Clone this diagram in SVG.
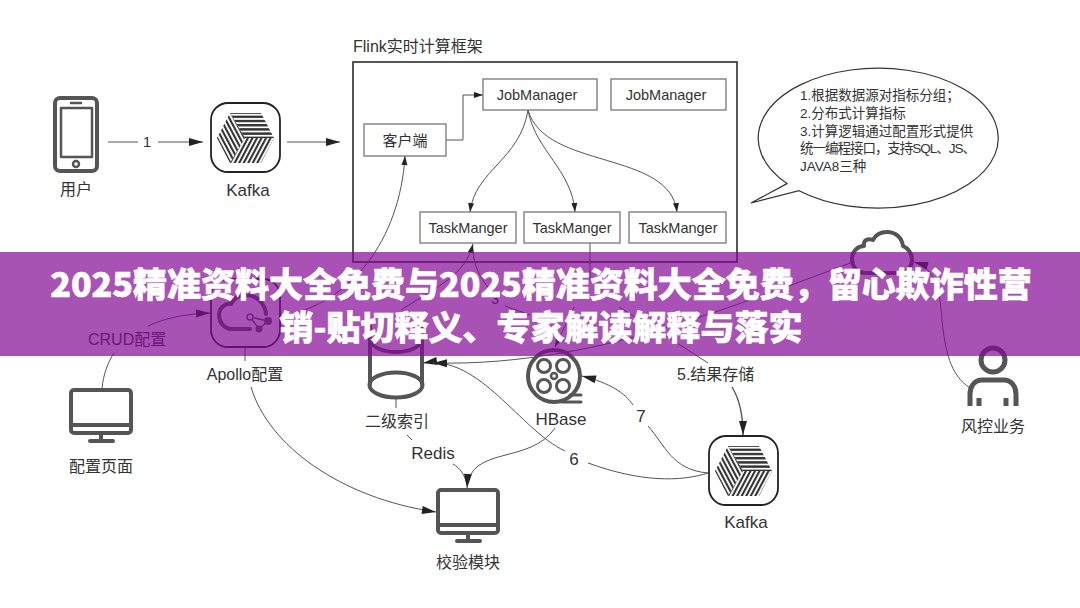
<svg xmlns="http://www.w3.org/2000/svg" width="1080" height="608" viewBox="0 0 1080 608">
<style>
text{font-family:"Liberation Sans","Noto Sans CJK SC",sans-serif;fill:#333;font-size:16px}
.m{text-anchor:middle}
.s{font-size:14.500px}
.b{font-size:13.500px}
.n{font-size:17px}
.box{fill:#fff;stroke:#777;stroke-width:1.3}
.ic{fill:none;stroke:#555;stroke-width:4;stroke-linejoin:round;stroke-linecap:round}
.kb{fill:#fff;stroke:#222;stroke-width:1.8}
.c{fill:none;stroke:#555;stroke-width:1}
.a{marker-end:url(#ar)}
.banner{font-family:"Noto Sans CJK SC","Noto Sans",sans-serif;font-weight:900;font-size:34px;fill:#fff;stroke:#fff;stroke-width:.6px;text-anchor:middle}
</style>
<defs>
<marker id="ar" markerUnits="userSpaceOnUse" markerWidth="16" markerHeight="10" refX="14" refY="4" orient="auto" overflow="visible"><path d="M0 0L14 4L0 8Z" fill="#222"/></marker>
<marker id="as" markerUnits="userSpaceOnUse" markerWidth="10" markerHeight="8" refX="9" refY="3" orient="auto" overflow="visible"><path d="M0 0L9 3L0 6Z" fill="#222"/></marker>
<pattern id="ph" width="6" height="4.2" patternUnits="userSpaceOnUse"><rect width="6" height="2.4" fill="#333"/></pattern>
<pattern id="pl" width="4" height="4" patternUnits="userSpaceOnUse" patternTransform="rotate(-28)"><rect width="2.1" height="4" fill="#333"/></pattern>
<pattern id="pr" width="4" height="4" patternUnits="userSpaceOnUse" patternTransform="rotate(28)"><rect width="2.1" height="4" fill="#333"/></pattern>
<g id="kafka">
<rect class="kb" x="0" y="0" width="69" height="69" rx="17"/>
<path d="M19 10H50L63 35H34Z" fill="url(#ph)"/>
<path d="M19 10L34 35L19 60L6 35Z" fill="url(#pl)"/>
<path d="M34 35H63L50 60H19Z" fill="url(#pr)"/>
</g>
<g id="monitor">
<rect class="ic" x="0" y="0" width="60" height="43" rx="3"/>
<path class="ic" d="M0 35H60M30 43V51M19 51H42"/>
</g>
</defs>
<rect width="1080" height="608" fill="#fff"/>

<g id="connectors">
<path class="c a" d="M108 142H138M158 142H203"/>
<path class="c a" d="M287 142H340"/>
<path class="c" marker-end="url(#as)" d="M446 140H463V95H483"/>
<path class="c" marker-end="url(#as)" d="M528 110C520 160 475 170 470 212"/>
<path class="c" marker-end="url(#as)" d="M528 110C535 150 572 170 575 212"/>
<path class="c" marker-end="url(#as)" d="M528 110C545 170 670 150 677 212"/>
<path class="c" marker-end="url(#as)" d="M281 316C350 305 400 240 405 156"/>
<path class="c" marker-end="url(#as)" d="M401 310C440 285 465 275 473 244"/>
<path class="c" d="M473 250C474 265 478 275 490 290M505 306L530 315"/>
<path class="c" marker-end="url(#as)" d="M574 307L555 347"/>
<path class="c" d="M590 243V280"/>
<path class="c" d="M619 307L688 350L708 363"/>
<path class="c a" style="stroke-width:1.4" d="M732 387C740 400 743 415 743 435"/>
<path class="c a" d="M102 389C103 375 108 362 114 353M148 326C165 318 185 314 210 313"/>
<path class="c" d="M245 347V361"/>
<path class="c a" d="M251 387C268 445 340 498 436 512"/>
<path class="c" d="M396 398V408M407 435L412 440"/>
<path class="c" d="M453 464C460 468 465 475 467 485"/>
<path class="c a" d="M555 428C530 465 470 445 467 488"/>
<path class="c a" d="M708 473C672 470 665 445 648 426M633 405C625 393 610 383 582 376"/>
<path class="c a" d="M708 473C680 482 640 482 588 463M565 451C520 430 480 355 423 363"/>
<path class="c a" d="M853 262C720 312 640 340 561 353C520 360 480 364 433 363"/>
<path class="c a" d="M970 388C950 375 945 350 942 320C940 290 935 268 914 262"/>
</g>

<g id="user"><rect class="ic" x="55" y="98" width="42" height="73" rx="5"/><rect class="ic" style="stroke-width:2.5" x="61" y="108" width="31" height="49"/><path class="ic" style="stroke-width:2.5" d="M71 103H81"/><circle class="ic" style="stroke-width:2.5" cx="76" cy="164" r="3"/><text class="m" x="76" y="195">用户</text></g>
<text class="m s" x="147" y="147">1</text>
<g id="kafka1"><use href="#kafka" x="211" y="103"/><text class="m n" x="248" y="196">Kafka</text></g>

<g id="flink">
<text x="353" y="52">Flink实时计算框架</text>
<rect x="353" y="62" width="384" height="200" fill="none" stroke="#444" stroke-width="1.8"/>
</g>
<g id="jm1"><rect class="box" x="483" y="79" width="114" height="31"/><text class="m s" x="537" y="100">JobManager</text></g>
<g id="jm2"><rect class="box" x="611" y="79" width="115" height="31"/><text class="m s" x="666" y="100">JobManager</text></g>
<g id="client"><rect class="box" x="364" y="124" width="82" height="32"/><text class="m" x="405" y="146" style="font-size:15px">客户端</text></g>
<g id="tm1"><rect class="box" x="420" y="212" width="96" height="31"/><text class="m s" x="468" y="233">TaskManger</text></g>
<g id="tm2"><rect class="box" x="524" y="212" width="96" height="31"/><text class="m s" x="572" y="233">TaskManger</text></g>
<g id="tm3"><rect class="box" x="629" y="212" width="97" height="31"/><text class="m s" x="678" y="233">TaskManger</text></g>

<g id="bubble">
<path d="M787 183.600A120 70 0 1 1 799 190.700L751 203Z" fill="#fff" stroke="#333" stroke-width="1.200"/>
<text class="b" x="800" y="100">1.根据数据源对指标分组；</text>
<text class="b" x="800" y="118">2.分布式计算指标</text>
<text class="b" x="800" y="136">3.计算逻辑通过配置形式提供</text>
<text class="b" x="800" y="153" textLength="176">统一编程接口，支持SQL、JS、</text>
<text class="b" x="800" y="171">JAVA8三种</text>
</g>

<g id="cloud-top"><path class="ic" d="M866 273C856 273 852 266 852 259C852 251 858 246 864 246C863 240 868 238 873 240C876 234 882 232 887 232C896 232 902 238 903 246C909 249 912 254 912 260C912 267 907 273 900 273Z"/></g>

<g id="apollo"><rect class="kb" x="211" y="279" width="69" height="68" rx="17"/>
<path class="ic" d="M250 329H232C224 329 219 322 219 315C219 308 225 303 231 304C234 298 240 295 246 295C256 295 265 303 266 314"/>
<path fill="none" stroke="#555" stroke-width="1.500" d="M250 317L268 321L259 329Z"/><circle cx="268" cy="321" r="4" fill="#555"/><circle cx="259" cy="329" r="3.500" fill="#555"/><circle cx="250" cy="317" r="3" fill="#fff" stroke="#555" stroke-width="1.500"/>
<text class="m" x="245" y="380">Apollo配置</text></g>
<text x="88" y="345">CRUD配置</text>
<text class="m s" x="495" y="304">3</text>

<g id="config-page"><use href="#monitor" x="71" y="390"/><text class="m" x="101" y="472">配置页面</text></g>
<g id="index"><path class="ic" d="M370 322V384M422 322V384M370 340C375 356 417 356 422 340"/><ellipse class="ic" cx="396" cy="385" rx="26.500" ry="12.500"/><text class="m" x="397" y="427">二级索引</text></g>
<text class="m n" x="433" y="459">Redis</text>
<g id="hbase"><circle class="ic" cx="554" cy="376" r="26"/><circle class="ic" style="stroke-width:3" cx="544" cy="366" r="6.500"/><circle class="ic" style="stroke-width:3" cx="563" cy="366" r="6.500"/><circle class="ic" style="stroke-width:3" cx="544" cy="386" r="6.500"/><circle class="ic" style="stroke-width:3" cx="563" cy="386" r="6.500"/><circle class="ic" style="stroke-width:2.500" cx="554" cy="376" r="3"/><path class="ic" style="stroke-width:3" d="M570 395H581M562 402H581"/><text class="m n" x="561" y="425">HBase</text></g>
<g id="check"><use href="#monitor" x="438" y="490"/><text class="m" x="468" y="568">校验模块</text></g>
<text class="m n" x="641" y="422">7</text>
<text class="m n" x="574" y="465">6</text>
<text x="677" y="380">5.结果存储</text>
<g id="kafka2"><use href="#kafka" x="709" y="436"/><text class="m n" x="746" y="528">Kafka</text></g>
<g id="risk"><circle class="ic" style="stroke-width:5" cx="993" cy="360" r="12"/><path class="ic" style="stroke-width:5;stroke-linecap:butt" d="M970 406V394C970 386 975 380 982 380H1004C1011 380 1016 386 1016 394V406M979 398V406M1006 398V406"/><text class="m" x="993" y="432">风控业务</text></g>

<g id="overlay">
<rect x="0" y="252" width="1080" height="104" fill="#840895" fill-opacity=".7"/>
<text class="banner" x="541" y="297">2025精准资料大全免费与2025精准资料大全免费，留心欺诈性营</text>
<text class="banner" x="541" y="340">销-贴切释义、专家解读解释与落实</text>
</g>
</svg>
